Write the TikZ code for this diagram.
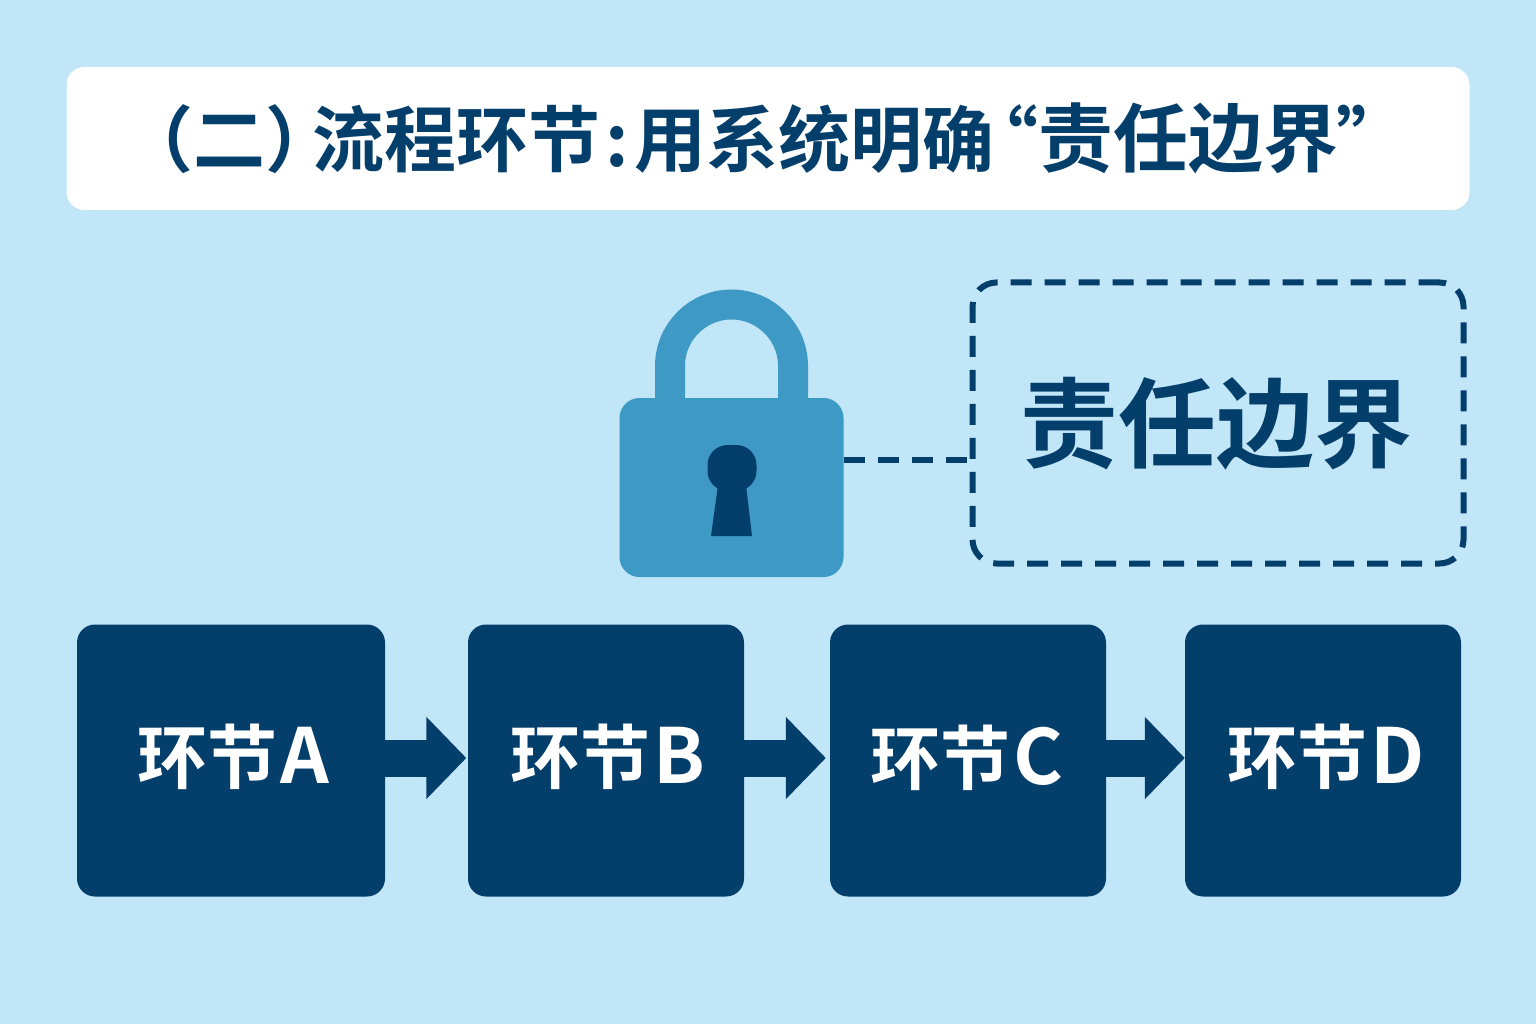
\documentclass[tikz,border=0pt]{standalone}
\usepackage{fontspec}
\setmainfont{Noto Sans CJK SC}[BoldFont={* Bold}]
\usetikzlibrary{positioning,arrows.meta}
\definecolor{skybg}{RGB}{192,230,248}
\definecolor{navy}{RGB}{4,62,107}
\definecolor{lockblue}{RGB}{62,153,197}
\tikzstyle{stage} = [fill=navy, rounded corners=18pt, minimum height=272pt, inner sep=0pt]
\tikzstyle{stagetext} = [text=white, font=\bfseries\fontsize{70}{70}\selectfont, inner sep=0pt]
\tikzstyle{flow} = [-{Triangle[length=40pt,width=80pt]}, navy, line width=37pt]
\tikzstyle{edgeline} = [navy, line width=6pt, dash pattern=on 21pt off 13pt]
\newcommand{\stageletter}[1]{\hspace{3pt}{\fontsize{76}{76}\selectfont #1}}
\begin{document}
\begin{tikzpicture}[x=1pt, y=-1pt]
\useasboundingbox[fill=skybg] (0,0) rectangle (1536,1024);
\node[fill=white, rounded corners=18pt, minimum width=1403pt, minimum height=143pt, inner sep=0pt] (titlebar) at (768,138.5) {};
\node[text=navy, font=\bfseries\fontsize{72}{72}\selectfont, inner sep=0pt] (titletext) at (765,138) {（二）\hspace{-25pt}流程环节\hspace{5.5pt}:\hspace{5.5pt}用系统明确\hspace{-28pt}“{\fontsize{75}{75}\selectfont 责任边界}\hspace{-2pt}”};
% lock
\draw[lockblue, line width=30pt] (670,400) -- (670,366) arc[start angle=180, end angle=0, radius=61.5pt] -- (793,400);
\node[fill=lockblue, rounded corners=20pt, minimum width=224pt, minimum height=179pt, inner sep=0pt] (lock) at (731.5,487.5) {};
\node[fill=navy, rounded corners=20pt, minimum width=49pt, minimum height=46pt, inner sep=0pt] (keyhead) at (732,468) {};
\fill[navy] (718,485) -- (746,485) -- (752,536) -- (711,536) -- cycle;
% boundary
\node[draw=navy, edgeline, rounded corners=24pt, minimum width=491pt, minimum height=281pt, inner sep=0pt] (edgebox) at (1218,423) {};
\node[text=navy, font=\bfseries\fontsize{98}{98}\selectfont, inner sep=0pt] (edgetext) at (1216,424) {责任边界};
\draw[edgeline] (lock.east |- 0,460) -- (edgebox.west |- 0,460);
% stages
\node[stage, minimum width=308pt] (stageA) at (231,760.5) {};
\node[stage, minimum width=276pt] (stageB) at (606,760.5) {};
\node[stage, minimum width=276pt] (stageC) at (968,760.5) {};
\node[stage, minimum width=276pt] (stageD) at (1323,760.5) {};
\node[stagetext] (labelA) at (233,757) {环节\stageletter{A}};
\node[stagetext] (labelB) at (608,757) {环节\stageletter{B}};
\node[stagetext] (labelC) at (967,758) {环节\stageletter{C}};
\node[stagetext] (labelD) at (1326,757) {环节\stageletter{D}};
\draw[flow, shorten >=1.5pt] (stageA.east |- 0,758) -- (stageB.west |- 0,758);
\draw[flow, shorten >=4pt] (stageB.east |- 0,758) -- (stageC.west |- 0,758);
\draw[flow] (stageC.east |- 0,758) -- (stageD.west |- 0,758);
\end{tikzpicture}
\end{document}
